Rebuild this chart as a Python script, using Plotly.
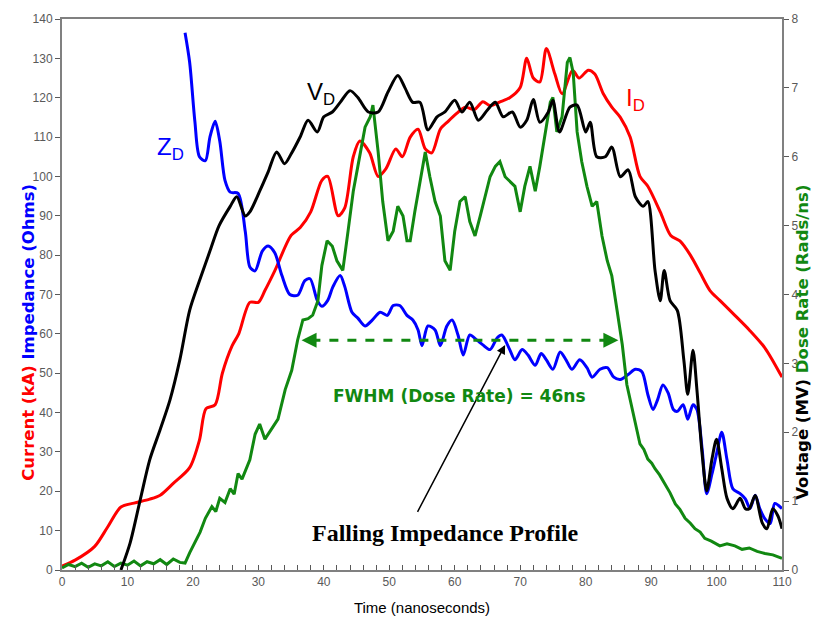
import plotly.graph_objects as go

# ---------------- data ----------------
t_current = [0, 2, 5, 7, 9, 11, 13.4, 15, 17, 19.5, 21, 22, 23.4, 24.5, 26, 27, 28.7, 30, 31, 32.5,
             35, 36.4, 38, 39.7, 40.6, 42.2, 43.2, 44.5, 45.5, 47, 48.3, 49.5, 51, 52, 53.2, 54.4,
             55.5, 56.5, 57.8, 59, 60.3, 61.6, 63, 64.3, 65.4, 67, 68.4, 70, 71, 72, 73, 74, 75.3,
             76.4, 78, 79, 80.4, 81.4, 82.7, 84, 85.3, 86.8, 88.3, 89.5, 91.4, 93, 94.4, 96, 97.5,
             99, 100.5, 102.8, 105, 107.4, 110]
current_kA = [1, 2.5, 6, 11, 16, 17, 18, 19, 22, 26, 33, 41, 42, 50, 57, 60, 68, 68, 71, 76,
              85, 87, 91, 99, 100, 90, 92, 105, 109, 106, 100, 102, 107, 105, 110, 112,
              107, 106, 112, 114, 116, 117.6, 117, 119, 118, 119, 120, 122.6, 130, 125, 124, 132.5, 126,
              121, 127, 125, 127, 126, 121, 117.6, 115, 110, 100, 97.5, 91, 85, 83.6, 80, 75.5,
              71, 68.5, 64.7, 61, 56.4, 49]

t_voltage = [9, 10.4, 12, 13.4, 15, 16.5, 18, 19.5, 21, 22.6, 24, 25.7, 26.7, 28, 28.7, 30.2, 31.5,
             32.8, 34, 35, 36.4, 37.6, 39, 40, 41.3, 42.5, 44, 45.2, 46.8, 48.3, 49.8, 51.3, 52.4,
             53.6, 54.7, 55.9, 57.3, 58.5, 60, 61.1, 62.3, 63.6, 65, 66.2, 67.4, 68.8, 70, 71, 72,
             73, 74.3, 75, 76, 77.6, 78.7, 80, 80.7, 81.7, 83, 84, 85.3, 86.5, 87.6, 88.8, 89.5,
             90.6, 91.4, 92, 92.9, 94, 95, 95.6, 96.4, 97, 97.8, 98.5, 99.3, 100, 100.8, 101.6,
             102.5, 103.6, 104.4, 105, 105.9, 107, 107.7, 108.6, 109.4, 110]
voltage_MV = [0, 0.39, 1.04, 1.6, 2.04, 2.47, 3.05, 3.77, 4.2, 4.63, 5.0, 5.28, 5.42, 5.14, 5.2, 5.5, 5.78,
              6.07, 5.9, 6.04, 6.29, 6.53, 6.36, 6.58, 6.65, 6.79, 6.96, 6.86, 6.65, 6.65, 6.94, 7.18, 7.0,
              6.79, 6.79, 6.39, 6.58, 6.65, 6.82, 6.65, 6.79, 6.53, 6.68, 6.79, 6.58, 6.65, 6.43, 6.53, 6.83,
              6.5, 6.65, 6.82, 6.36, 6.72, 6.75, 6.36, 6.5, 6.0, 6.0, 6.14, 5.71, 5.81, 5.42, 5.28, 5.35,
              4.35, 3.91, 4.35, 3.91, 3.77, 3.05, 2.55, 3.19, 2.62, 1.68, 1.15, 1.61, 1.9, 1.47, 1.04,
              0.89, 1.04, 0.89, 0.89, 1.08, 0.68, 0.6, 0.89, 0.78, 0.6]

t_impedance = [18.8, 19.5, 20.3, 21, 21.9, 22.6, 23.4, 24.1, 24.9, 25.7, 26.9, 28, 28.7, 29.5, 30.6,
               31.5, 32.5, 33.6, 34.8, 36, 37.1, 37.9, 39, 39.7, 40.6, 41.4, 42.5, 43.2, 44.3, 45.2,
               46.3, 47.4, 48.6, 49.7, 50.6, 51.6, 52.7, 53.6, 54.4, 55, 55.9, 57, 57.8, 58.8, 59.6,
               60.5, 61.3, 62.3, 63.4, 64.3, 65.4, 66.5, 67.2, 68.4, 69.2, 70.3, 71.2, 72.3, 73.2,
               74, 75, 76.1, 77, 77.9, 79.1, 80.2, 81, 82.2, 83.3, 84.3, 85.3, 86.5, 87.6, 88.6,
               89.5, 90.3, 91, 91.8, 92.6, 93.4, 94, 94.9, 95.6, 96.4, 97, 97.8, 98.5, 99.3, 100,
               100.8, 101.6, 102.5, 103.6, 104.4, 105.1, 105.9, 106.6, 107.4, 108.2, 108.9, 110]
impedance_ohm = [136.5, 129, 114, 105, 104, 110, 114, 109, 99, 96, 95.7, 86, 77, 76, 81,
                 82.3, 80.6, 74.8, 70, 69.8, 73.5, 74, 68.5, 67, 68.5, 72, 74.8, 72, 65.5, 64,
                 62, 63.5, 65.5, 64.7, 67.2, 67.2, 64.7, 63.5, 61, 57, 62, 61, 57, 62, 63.5,
                 59.7, 54.6, 59.7, 58.4, 57.2, 56, 59, 59.7, 56, 53.4, 56, 54.6, 52, 55,
                 53.4, 51, 55.4, 53.4, 51, 53.4, 51.4, 49, 51, 51.4, 49, 48.4, 49.7, 51, 50.4,
                 44.6, 40.8, 43.3, 47, 45, 40.8, 40.3, 42, 38.3, 42, 40.8, 30.7, 19.4, 24.4, 29.5,
                 35, 28, 20.6, 19.4, 18.1, 15.6, 19, 15.6, 13, 11.8, 16.9, 15.6]

t_dose = [0, 1, 2, 3, 4, 5, 6, 7, 8, 9, 10, 11, 12, 13, 14, 15, 16, 17, 18, 18.8, 19.5, 20.3, 21.1,
          21.9, 22.9, 23.5, 24.1, 24.9, 25.7, 26.3, 26.9, 27.5, 28.1, 28.7, 29.5, 30.2, 31, 32, 33,
          34.1, 35.1, 36, 36.8, 37.6, 38.3, 39.1, 39.7, 40.5, 41.3, 42, 42.9, 43.7, 44.5, 45.2,
          46.3, 47.1, 47.5, 48.3, 49, 49.8, 50.6, 51.3, 52.1, 52.7, 53.2, 53.9, 54.7, 55.5, 56.2,
          57, 57.8, 58.5, 59.3, 60, 60.8, 61.6, 62.3, 63.1, 63.9, 64.6, 65.4, 66.2, 66.9, 67.7,
          68.4, 69.2, 70, 70.7, 71.5, 72.3, 73, 73.8, 74.6, 75, 75.6, 76.4, 77.2, 77.6, 78.1, 78.7,
          79.4, 80.2, 81, 81.7, 82.5, 83.3, 84, 84.8, 85.6, 86.3, 87.1, 87.7, 88.3, 88.9, 89.5,
          90.1, 90.6, 91.3, 92.1, 92.9, 93.7, 94.4, 95.2, 96, 96.7, 97.5, 98.2, 99.2, 100.5,
          101.6, 102.8, 103.9, 105, 106.2, 107.4, 108.6, 110]
dose_rate = [0.03, 0.08, 0.05, 0.1, 0.04, 0.09, 0.06, 0.12, 0.05, 0.1, 0.07, 0.13, 0.06, 0.12, 0.09, 0.15, 0.08, 0.16, 0.11, 0.1, 0.25, 0.39, 0.55,
             0.75, 0.92, 0.85, 1.04, 0.98, 1.18, 1.1, 1.4, 1.32, 1.45, 1.6, 1.97, 2.12, 1.9, 2.04, 2.19,
             2.62, 2.9, 3.34, 3.63, 3.65, 3.7, 3.91, 4.42, 4.78, 4.7, 4.49, 4.35, 4.92, 5.5, 5.86,
             6.43, 6.58, 6.75, 6.07, 5.35, 4.78, 4.92, 5.28, 5.14, 4.78, 4.78, 5.2, 5.64, 6.07, 5.71,
             5.35, 5.14, 4.49, 4.35, 4.92, 5.35, 5.42, 5.06, 4.85, 5.14, 5.42, 5.71, 5.86, 5.93, 5.71,
             5.64, 5.57, 5.2, 5.57, 5.86, 5.5, 5.86, 6.36, 6.79, 6.86, 6.36, 6.58, 7.37, 7.44, 7.22, 6.36,
             5.93, 5.57, 5.28, 5.35, 4.85, 4.49, 4.27, 3.77, 3.27, 2.69, 2.33, 2.1, 1.83, 1.75, 1.61,
             1.55, 1.47, 1.38, 1.25, 1.12, 0.96, 0.88, 0.75, 0.68, 0.6, 0.55, 0.46, 0.42, 0.35,
             0.38, 0.35, 0.3, 0.32, 0.27, 0.24, 0.22, 0.17]

fwhm_start, fwhm_end, fwhm_level = 36.6, 85.0, 58.4   # ns, ns, left-axis units
arrow_tail = (54.2, 14.4)
arrow_head = (67.7, 57.2)

RED, BLUE, GREEN, BLACK = "#ff0000", "#0000ff", "#118811", "#000000"
LW = 3

fig = go.Figure()
fig.add_trace(go.Scatter(x=t_dose, y=dose_rate, yaxis="y2", mode="lines",
                         line=dict(color=GREEN, width=LW), showlegend=False))
fig.add_trace(go.Scatter(x=t_current, y=current_kA, mode="lines",
                         line=dict(color=RED, width=LW, shape="spline", smoothing=0.8), showlegend=False))
fig.add_trace(go.Scatter(x=t_impedance, y=impedance_ohm, mode="lines",
                         line=dict(color=BLUE, width=LW, shape="spline", smoothing=0.8), showlegend=False))
fig.add_trace(go.Scatter(x=t_voltage, y=voltage_MV, yaxis="y2", mode="lines",
                         line=dict(color=BLACK, width=LW, shape="spline", smoothing=0.8), showlegend=False))

# FWHM dashed line
fig.add_trace(go.Scatter(x=[fwhm_start + 1.5, fwhm_end - 1.5], y=[fwhm_level, fwhm_level], mode="lines",
                         line=dict(color=GREEN, width=3, dash="dash"), showlegend=False))

annotations = []
for x0, x1 in [(fwhm_start + 2, fwhm_start), (fwhm_end - 2, fwhm_end)]:
    annotations.append(dict(x=x1, y=fwhm_level, ax=x0, ay=fwhm_level, xref="x", yref="y",
                            axref="x", ayref="y", showarrow=True, arrowhead=2, arrowsize=1,
                            arrowwidth=3, arrowcolor=GREEN, text=""))
annotations.append(dict(x=arrow_head[0], y=arrow_head[1], ax=arrow_tail[0], ay=arrow_tail[1],
                        xref="x", yref="y", axref="x", ayref="y", showarrow=True, arrowhead=2,
                        arrowsize=1.2, arrowwidth=1.5, arrowcolor=BLACK, text=""))
annotations += [
    dict(x=60.8, y=44.3, xref="x", yref="y", text="<b>FWHM (Dose Rate) = 46ns</b>", showarrow=False,
         font=dict(color=GREEN, size=17, family="DejaVu Sans")),
    dict(x=58.6, y=9.5, xref="x", yref="y", text="<b>Falling Impedance Profile</b>", showarrow=False,
         font=dict(color=BLACK, size=24, family="Liberation Serif")),
    dict(x=39.5, y=121, xref="x", yref="y", text="V<sub>D</sub>", showarrow=False,
         font=dict(color=BLACK, size=24, family="Liberation Sans")),
    dict(x=16.5, y=107, xref="x", yref="y", text="Z<sub>D</sub>", showarrow=False,
         font=dict(color=BLUE, size=24, family="Liberation Sans")),
    dict(x=87.6, y=119.5, xref="x", yref="y", text="I<sub>D</sub>", showarrow=False,
         font=dict(color=RED, size=24, family="Liberation Sans")),
    dict(x=-0.062, y=0.432, xref="paper", yref="paper", textangle=-90, showarrow=False,
         text="<b><span style='color:#ff0000'>Current (kA)</span> <span style='color:#0000ff'>Impedance (Ohms)</span></b>",
         font=dict(size=16.5, family="DejaVu Sans")),
    dict(x=1.045, y=0.414, xref="paper", yref="paper", textangle=-90, showarrow=False,
         text="<b><span style='color:#000000'>Voltage (MV)</span> <span style='color:#118811'>Dose Rate (Rads/ns)</span></b>",
         font=dict(size=16.5, family="DejaVu Sans")),
]

axis_common = dict(showgrid=False, zeroline=False, showline=True, linecolor="#808080", linewidth=2,
                   tickfont=dict(color="#595959", size=12, family="Liberation Sans"),
                   tickcolor="#595959", ticklen=5)

fig.update_layout(
    width=821, height=626,
    margin=dict(l=62, r=39, t=16, b=54),
    paper_bgcolor="white", plot_bgcolor="white",
    font=dict(family="Liberation Sans"),
    xaxis=dict(range=[0, 110], dtick=10, ticks="inside", mirror=True,
               minor=dict(dtick=2, ticks="inside", ticklen=5, tickcolor="#595959"),
               title=dict(text="Time (nanoseconds)", font=dict(size=15, color="#000000"), standoff=14),
               **axis_common),
    yaxis=dict(range=[0, 140], dtick=10, ticks="outside", **axis_common),
    yaxis2=dict(range=[0, 8], dtick=1, ticks="outside", overlaying="y", side="right", **axis_common),
    annotations=annotations,
)

fig.write_html("out.html")
